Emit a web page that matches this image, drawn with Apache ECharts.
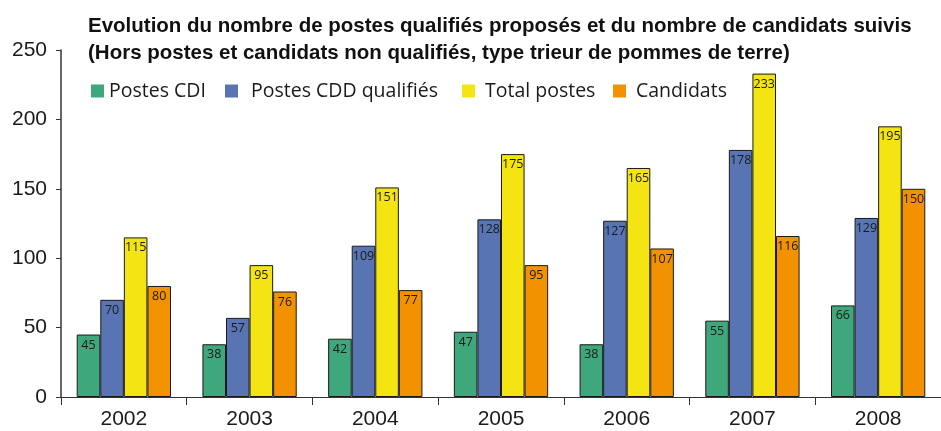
<!DOCTYPE html>
<html><head><meta charset="utf-8">
<script src="https://cdn.jsdelivr.net/npm/echarts@6/dist/echarts.min.js"></script>
<style>html,body{margin:0;padding:0;background:#fff}#c{width:941px;height:431px}</style>
</head><body><div id="c"></div>
<script>
const years = ['2002','2003','2004','2005','2006','2007','2008'];
const postesCDI = [45,38,42,47,38,55,66];
const postesCDD = [70,57,109,128,127,178,129];
const totalPostes = [115,95,151,175,165,233,195];
const candidats = [80,76,77,95,107,116,150];
const seriesNames = ['Postes CDI','Postes CDD qualifiés','Total postes','Candidats'];
const colors = ['#3ea77b','#5874b3','#f4e512','#f29200'];
const yTicks = [0,50,100,150,200,250];

const chart = echarts.init(document.getElementById('c'));
const mk = (name, data, color) => ({
  name, type:'bar', data,
  barGap:'0%', barCategoryGap:'25%',
  itemStyle:{color, borderColor:'#1a1a1a', borderWidth:1},
  label:{show:true, position:'insideTop', distance:4, color:'#1a1a1a', fontSize:12.5, fontFamily:'Open Sans'}
});
const legendLefts = [86, 220, 457, 608];
const legendPads = [0, 8, 5, 5];
chart.setOption({
  animation:false,
  title:{
    text:'Evolution du nombre de postes qualifiés proposés et du nombre de candidats suivis\n(Hors postes et candidats non qualifiés, type trieur de pommes de terre)',
    left:83, top:8,
    textStyle:{fontFamily:'Liberation Sans', fontWeight:'bold', fontSize:20.5, lineHeight:27, color:'#111'}
  },
  legend: seriesNames.map((n,i)=>({
    left:legendLefts[i], top:76, itemWidth:13, itemHeight:13,
    icon:'rect',
    itemStyle:{borderWidth:0},
    textStyle:{fontFamily:'Open Sans', fontSize:19.5, color:'#1a1a1a', padding:[0,0,0,legendPads[i]]},
    data:[n]
  })),
  grid:{left:61, right:0, top:50, bottom:34},
  xAxis:{
    type:'category', data:years,
    axisLine:{lineStyle:{color:'#333', width:1}},
    axisTick:{show:true, length:8, lineStyle:{color:'#333'}},
    axisLabel:{fontFamily:'Liberation Sans', fontSize:21, color:'#1a1a1a', margin:12}
  },
  yAxis:{
    type:'value', min:yTicks[0], max:yTicks[yTicks.length-1], interval:50,
    axisLine:{show:true, lineStyle:{color:'#333', width:1.5}},
    axisTick:{show:true, length:5, lineStyle:{color:'#333'}},
    splitLine:{show:false},
    axisLabel:{fontFamily:'Liberation Sans', fontSize:21, color:'#1a1a1a', margin:14}
  },
  series:[
    mk(seriesNames[0], postesCDI, colors[0]),
    mk(seriesNames[1], postesCDD, colors[1]),
    mk(seriesNames[2], totalPostes, colors[2]),
    mk(seriesNames[3], candidats, colors[3])
  ]
});
</script></body></html>
